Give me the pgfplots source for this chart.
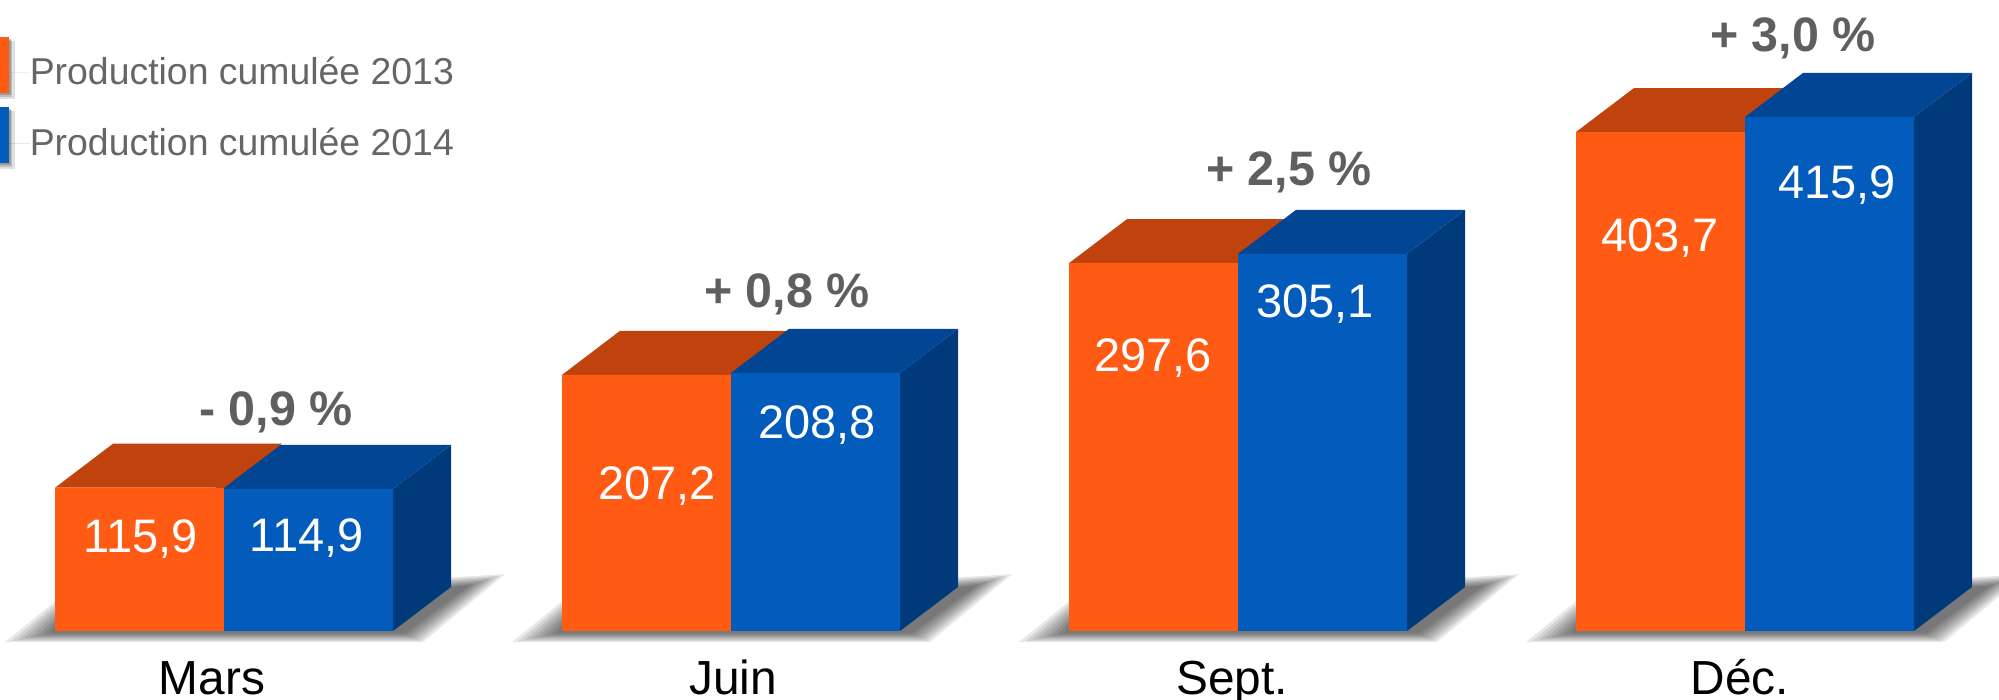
\documentclass[border=0pt]{standalone}
\usepackage{pgfplots}
\usepackage{fontspec}
\setmainfont{Liberation Sans}
\pgfplotsset{compat=1.18}
\definecolor{orF}{HTML}{FF5B14}
\definecolor{orT}{HTML}{C0430D}
\definecolor{blF}{HTML}{035BBB}
\definecolor{blT}{HTML}{024693}
\definecolor{blS}{HTML}{013A7A}
\definecolor{txt}{HTML}{666666}
\definecolor{pct}{HTML}{5F5F5F}
\newcommand\shlayer[2]{\fill[black,opacity=0.09,draw=none]
 (axis cs:{#1-50+45*#2},{-9+7*#2}) -- (axis cs:{#1},{24-19*#2}) -- (axis cs:{#1+450-35*#2},{46-9*#2}) -- (axis cs:{#1+368-18*#2},{-9+7*#2}) -- cycle;}
\newcommand\shadow[1]{\shlayer{#1}{0}\shlayer{#1}{0.143}\shlayer{#1}{0.286}\shlayer{#1}{0.429}\shlayer{#1}{0.571}\shlayer{#1}{0.714}\shlayer{#1}{0.857}\shlayer{#1}{1}}
\newcommand\val[4]{\node[anchor=base,inner sep=0pt,text=white,font=\fontsize{23.5}{27}\selectfont] at (axis cs:#1,#2) {#3};}
\newcommand\pc[3]{\node[anchor=base,inner sep=0pt,text=pct,font=\fontsize{24.2}{27}\selectfont\bfseries] at (axis cs:#1,#2) {#3};}
\pgfplotstableread{
x v
139.5 115.9
646.5 207.2
1153.5 297.6
1660.5 403.7
}\orange
\pgfplotstableread{
x v
308.5 114.9
815.5 208.8
1322.5 305.1
1829.5 415.9
}\blue
\begin{document}
\begin{tikzpicture}
\useasboundingbox (0,0) rectangle (999.5pt,350pt);
\begin{axis}[
 scale only axis, width=999.5pt, height=350pt,
 xmin=0, xmax=1999, ymin=-55.83, ymax=510.52,
 axis line style={draw=none},
 ytick=\empty,
 xtick={212,733,1232,1740},
 xticklabels={Mars,Juin,Sept.,Déc.},
 major tick length=0pt,
 xtick style={draw=none},
 xticklabel style={font=\fontsize{23.9}{27}\selectfont,text=black,anchor=base,yshift=2.5pt,inner sep=0pt},
 legend style={at={(axis cs:0,465)},anchor=north west,draw=none,fill=none,inner sep=0pt,
  row sep=20.2pt,
  font=\fontsize{18.7}{22}\selectfont,text=txt,
  nodes={inner sep=0pt}},
 legend cell align=left,
 legend image code/.code={
  \begin{scope}[overlay]
  \fill[black,opacity=0.12] (0,-13.3pt) rectangle (7.5pt,15.7pt);
  \fill[black,opacity=0.15] (0,-12.3pt) rectangle (6pt,16.2pt);
  \fill[black,opacity=0.2] (0,-11.3pt) rectangle (5.2pt,16.7pt);
  \fill[#1] (0,-10.3pt) rectangle (4.5pt,17.7pt);
  \end{scope}
  \path (0,0) rectangle (14.7pt,0);
 },
]
% ground shadows
\shadow{55}\shadow{562}\shadow{1069}\shadow{1576}
% side faces
\addplot[forget plot,draw=none,fill=blS] coordinates {(393,114.9)(393,0)(451,35.6)(451,150.5)(393,114.9)};
\addplot[forget plot,draw=none,fill=blS] coordinates {(900,208.8)(900,0)(958,35.6)(958,244.4)(900,208.8)};
\addplot[forget plot,draw=none,fill=blS] coordinates {(1407,305.1)(1407,0)(1465,35.6)(1465,340.7)(1407,305.1)};
\addplot[forget plot,draw=none,fill=blS] coordinates {(1914,415.9)(1914,0)(1972,35.6)(1972,451.5)(1914,415.9)};
% top faces
\addplot[forget plot,draw=none,fill=blT] coordinates {(214,114.9)(393,114.9)(451,150.5)(272,150.5)(214,114.9)};
\addplot[forget plot,draw=none,fill=orT] coordinates {(55,115.9)(224,115.9)(282,151.5)(113,151.5)(55,115.9)};
\addplot[forget plot,draw=none,fill=orT] coordinates {(562,207.2)(731,207.2)(789,242.8)(620,242.8)(562,207.2)};
\addplot[forget plot,draw=none,fill=blT] coordinates {(731,208.8)(900,208.8)(958,244.4)(789,244.4)(731,208.8)};
\addplot[forget plot,draw=none,fill=orT] coordinates {(1069,297.6)(1238,297.6)(1296,333.2)(1127,333.2)(1069,297.6)};
\addplot[forget plot,draw=none,fill=blT] coordinates {(1238,305.1)(1407,305.1)(1465,340.7)(1296,340.7)(1238,305.1)};
\addplot[forget plot,draw=none,fill=orT] coordinates {(1576,403.7)(1745,403.7)(1803,439.3)(1634,439.3)(1576,403.7)};
\addplot[forget plot,draw=none,fill=blT] coordinates {(1745,415.9)(1914,415.9)(1972,451.5)(1803,451.5)(1745,415.9)};
% front faces
\addplot[ybar,bar width=169,bar shift=0pt,draw=none,fill=orF] table[x=x,y=v] {\orange};
\addlegendentry{Production cumulée 2013}
\addplot[ybar,bar width=169,bar shift=0pt,draw=none,fill=blF] table[x=x,y=v] {\blue};
\addlegendentry{Production cumulée 2014}
% value labels
\val{141}{63.8}{115,9}{}
\val{307}{64.4}{114,9}{}
\val{657}{106.5}{207,2}{}
\val{817}{156}{208,8}{}
\val{1153}{210}{297,6}{}
\val{1315}{254}{305,1}{}
\val{1660}{307.3}{403,7}{}
\val{1837}{350}{415,9}{}
% change labels
\pc{276}{166.5}{- 0,9 \%}
\pc{787}{261.5}{+ 0,8 \%}
\pc{1289}{360.8}{+ 2,5 \%}
\pc{1793}{468.7}{+ 3,0 \%}
\end{axis}
\end{tikzpicture}
\end{document}
